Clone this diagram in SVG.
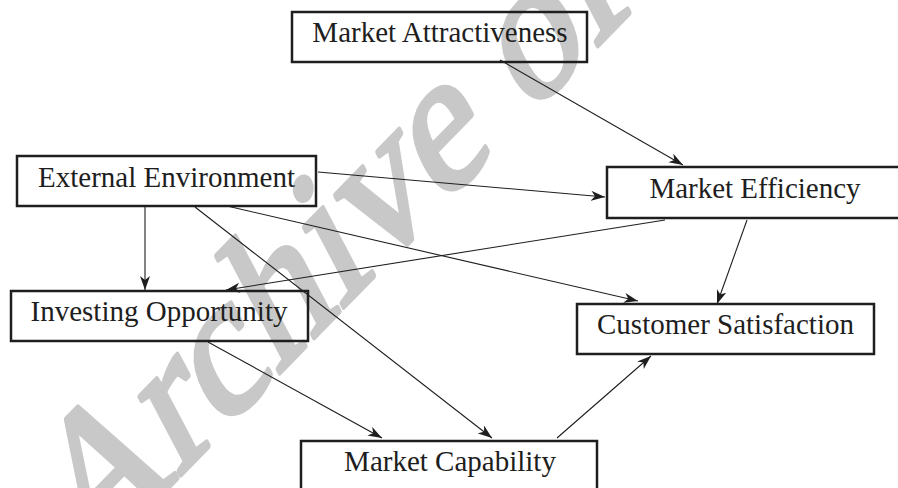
<svg xmlns="http://www.w3.org/2000/svg" width="898" height="488" viewBox="0 0 898 488">
<defs>
<style>
.box{fill:none;stroke:#1e1e1e;stroke-width:2.5}
.lbl{font-family:"Liberation Serif","Times New Roman",serif;font-size:29px;fill:#1e1e1e;text-anchor:middle}
.wm{font-family:"Liberation Serif","Times New Roman",serif;font-size:183px;fill:#c8c8c8;stroke:#c8c8c8;stroke-width:5;stroke-linejoin:round}
.edge{stroke:#1e1e1e;stroke-width:1.1;fill:none;marker-end:url(#ah)}
</style>
<marker id="ah" markerUnits="userSpaceOnUse" markerWidth="15" markerHeight="11" refX="14" refY="5" orient="auto">
<path d="M0,0 L14,5 L0,10 L4,5 z" fill="#1e1e1e"/>
</marker>
</defs>
<rect width="898" height="488" fill="#fff"/>
<text class="wm" x="0" y="0" transform="translate(86 572) rotate(-45.8) skewX(-18)">Archive of SID</text>
<g id="nodes-boxes">
<g id="n-ma"><rect class="box" x="292" y="12" width="295" height="50"/></g>
<g id="n-ee"><rect class="box" x="17" y="156" width="299" height="50"/></g>
<g id="n-me"><rect class="box" x="607" y="167" width="300" height="51"/></g>
<g id="n-io"><rect class="box" x="11" y="291" width="297" height="50"/></g>
<g id="n-cs"><rect class="box" x="577" y="304" width="297" height="50"/></g>
<g id="n-mc"><rect class="box" x="301" y="441" width="296" height="60"/></g>
</g>
<g id="connectors">
<line class="edge" x1="500" y1="60" x2="683" y2="165"/>
<line class="edge" x1="318" y1="172" x2="605" y2="197"/>
<line class="edge" x1="145" y1="207" x2="145" y2="290"/>
<line class="edge" x1="195" y1="207" x2="492" y2="438"/>
<line class="edge" x1="227" y1="206" x2="638" y2="301"/>
<line class="edge" x1="665" y1="220" x2="226" y2="290"/>
<line class="edge" x1="747" y1="220" x2="717" y2="304"/>
<line class="edge" x1="208" y1="342" x2="382" y2="438"/>
<line class="edge" x1="557" y1="438" x2="651" y2="356"/>
</g>
<g id="labels">
<text class="lbl" x="440" y="42">Market Attractiveness</text>
<text class="lbl" x="166.5" y="187">External Environment</text>
<text class="lbl" x="755" y="198">Market Efficiency</text>
<text class="lbl" x="159" y="321">Investing Opportunity</text>
<text class="lbl" x="725.5" y="334">Customer Satisfaction</text>
<text class="lbl" x="450" y="471">Market Capability</text>
</g>
</svg>
